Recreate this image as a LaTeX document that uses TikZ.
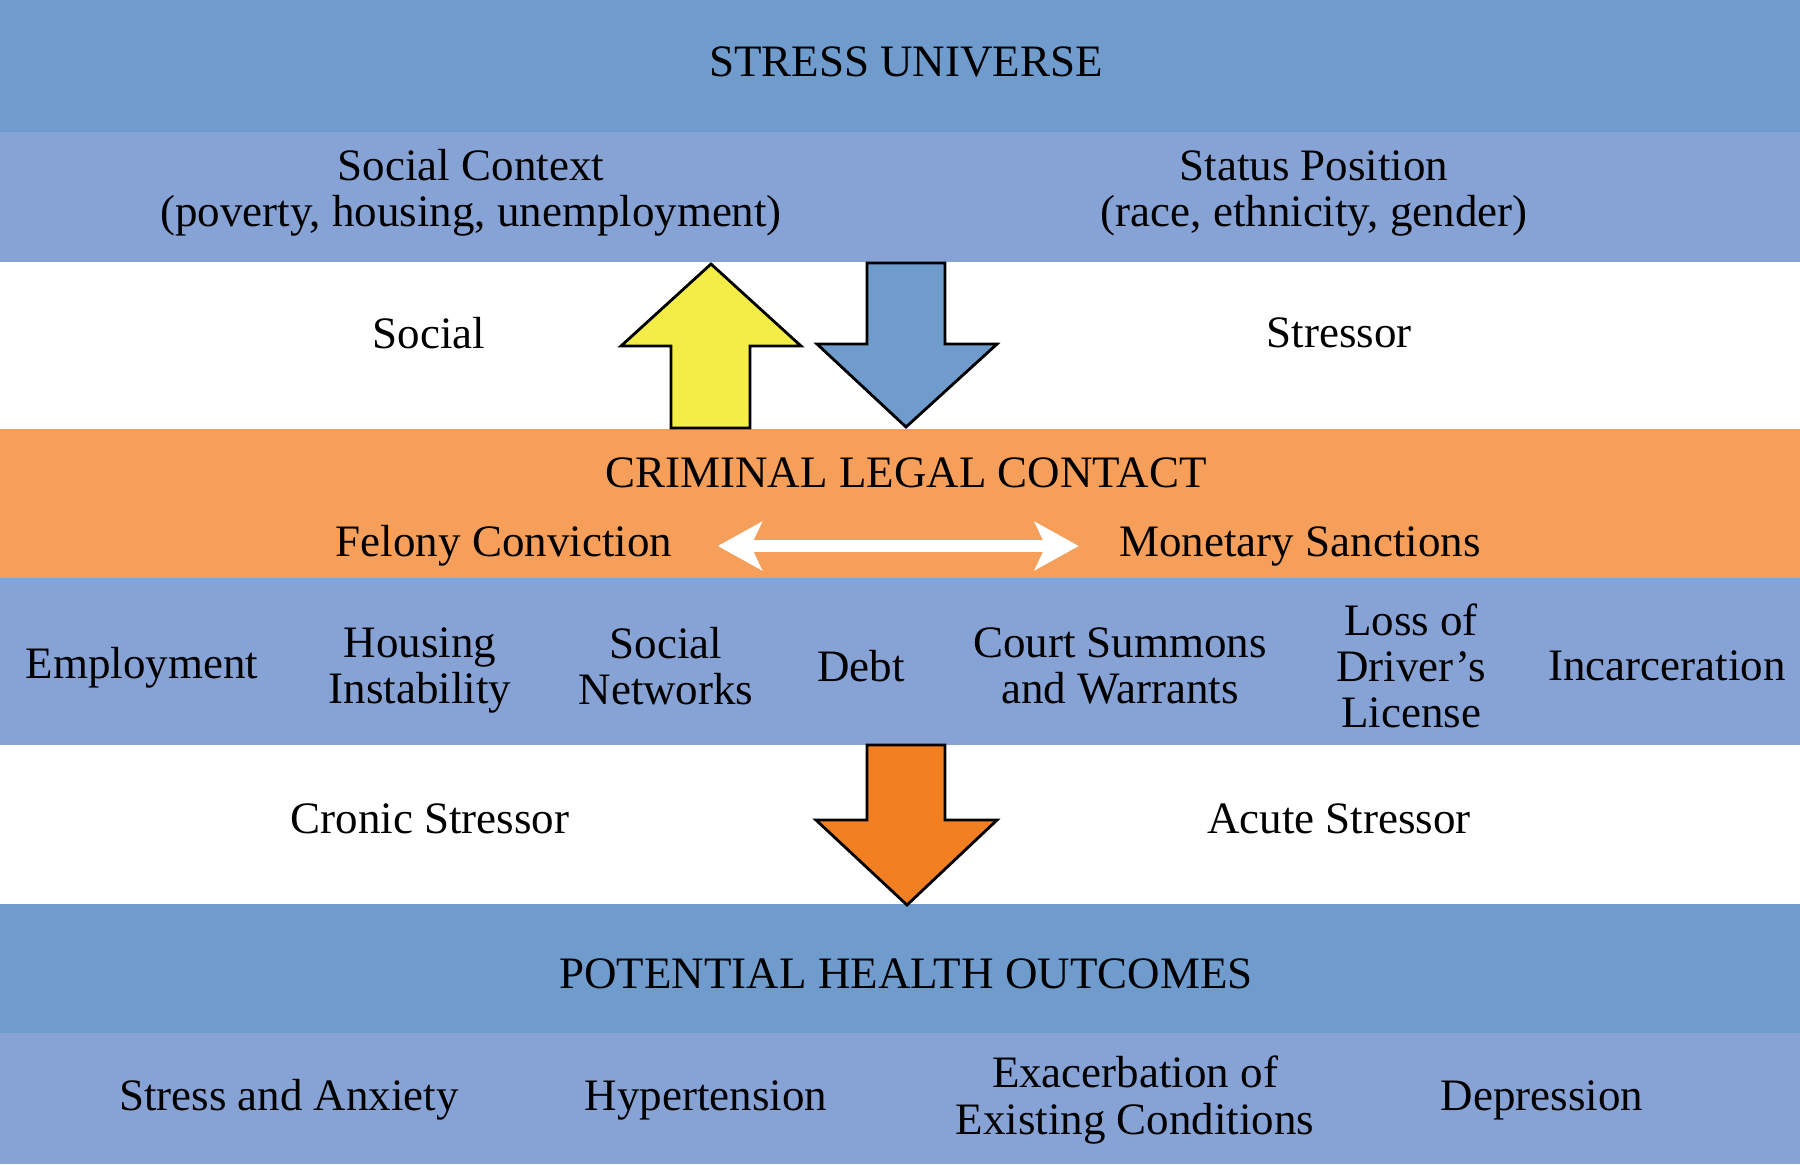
\documentclass[tikz,border=0pt]{standalone}
\usepackage{fontspec}
\setmainfont{Liberation Serif}
\usetikzlibrary{arrows.meta}

\definecolor{bandDark}{RGB}{112,155,205}
\definecolor{bandLight}{RGB}{135,162,212}
\definecolor{bandOrange}{RGB}{246,159,90}
\definecolor{arrowYellow}{RGB}{245,237,71}
\definecolor{arrowOrange}{RGB}{242,128,34}

\begin{document}
\begin{tikzpicture}[x=0.1mm,y=-0.1mm,
	lbl/.style={align=center,inner sep=0pt,font=\fontsize{12.8pt}{13.1pt}\selectfont},
	blockarrow/.style={draw=black,line width=0.8pt,line join=miter},
	twoway/.style={white,line width=3.4pt,{Stealth[length=4.4mm,width=4.8mm,inset=1.1mm]}-{Stealth[length=4.4mm,width=4.8mm,inset=1.1mm]}}]

	\useasboundingbox (0,0) rectangle (1800,1164);

	\fill[bandDark] (0,0) rectangle (1800,132);
	\fill[bandLight] (0,132) rectangle (1800,262);
	\fill[bandOrange] (0,429) rectangle (1800,578);
	\fill[bandLight] (0,578) rectangle (1800,745);
	\fill[bandDark] (0,904) rectangle (1800,1033);
	\fill[bandLight] (0,1033) rectangle (1800,1164);

	\node[lbl] at (906,62) (universe) {STRESS UNIVERSE};
	\node[lbl] at (471,193) (context) {Social Context\\(poverty, housing, unemployment)};
	\node[lbl] at (1314,193) (status) {Status Position\\(race, ethnicity, gender)};

	\node[lbl] at (429,333) (social) {Social};
	\node[lbl] at (1339,333) (stressor) {Stressor};

	\filldraw[blockarrow,fill=arrowYellow] (711,264) -- (801,346) -- (750,346) -- (750,428) -- (671,428) -- (671,346) -- (621,346) -- cycle;
	\filldraw[blockarrow,fill=bandDark] (867,263) -- (945,263) -- (945,344) -- (997,344) -- (906,427) -- (817,344) -- (867,344) -- cycle;

	\node[lbl] at (906,473) (contact) {CRIMINAL LEGAL CONTACT};
	\node[lbl] at (504,546) (felony) {Felony Conviction};
	\node[lbl] at (1300,546) (monetary) {Monetary Sanctions};
	\draw[twoway,shorten <=4.5mm,shorten >=4mm] (felony.east) -- (monetary.west);

	\node[lbl] at (142,668) (employment) {Employment};
	\node[lbl] at (420,670) (housing) {Housing\\Instability};
	\node[lbl] at (666,666) (networks) {Social\\Networks};
	\node[lbl] at (861,666) (debt) {Debt};
	\node[lbl] at (1120,666) (summons) {Court Summons\\and Warrants};
	\node[lbl] at (1411,666) (license) {Loss of\\Driver's\\License};
	\node[lbl] at (1667,666) (incarceration) {Incarceration};

	\node[lbl] at (430,819) (cronic) {Cronic Stressor};
	\node[lbl] at (1339,819) (acute) {Acute Stressor};

	\filldraw[blockarrow,fill=arrowOrange] (867,745) -- (945,745) -- (945,820) -- (997,820) -- (907,905) -- (816,820) -- (867,820) -- cycle;

	\node[lbl] at (906,974) (outcomes) {POTENTIAL HEALTH OUTCOMES};
	\node[lbl] at (289,1100) (anxiety) {Stress and Anxiety};
	\node[lbl] at (706,1100) (hypertension) {Hypertension};
	\node[lbl] at (1135,1100) (exacerbation) {Exacerbation of\\Existing Conditions};
	\node[lbl] at (1542,1100) (depression) {Depression};

\end{tikzpicture}
\end{document}
